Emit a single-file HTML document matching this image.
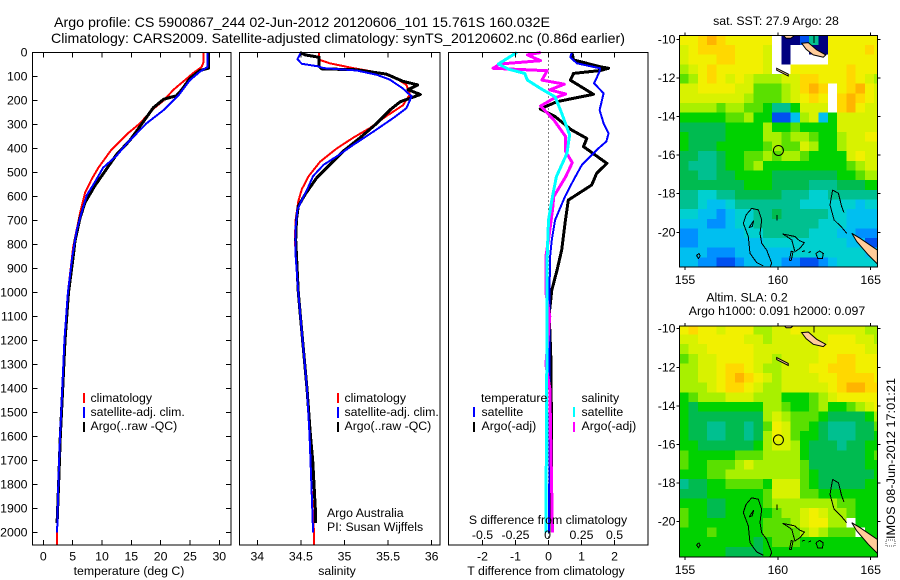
<!DOCTYPE html>
<html>
<head>
<meta charset="utf-8">
<title>Argo profile</title>
<style>
html,body{margin:0;padding:0;background:#fff;}
svg{display:block;}
text{font-family:"Liberation Sans",sans-serif;font-size:12.3px;fill:#000;}
</style>
</head>
<body>
<svg id="chart" xmlns="http://www.w3.org/2000/svg" width="900" height="580" viewBox="0 0 900 580">
<rect x="0" y="0" width="900" height="580" fill="#fff"/>
<text x="54" y="27" style="font-size:14px" textLength="496" lengthAdjust="spacingAndGlyphs">Argo profile: CS 5900867_244 02-Jun-2012 20120606_101 15.761S 160.032E</text>
<text x="51" y="43" style="font-size:14px" textLength="574" lengthAdjust="spacingAndGlyphs">Climatology: CARS2009. Satellite-adjusted climatology: synTS_20120602.nc (0.86d earlier)</text>

<g id="maps"></g>
<g id="profiles"></g>

<text x="129" y="575" text-anchor="middle">temperature (deg C)</text>
<text x="337" y="575" text-anchor="middle">salinity</text>
<text x="546" y="575" text-anchor="middle">T difference from climatology</text>
<text x="548" y="524" text-anchor="middle">S difference from climatology</text>

<g>
<line x1="84" x2="84" y1="393" y2="403" stroke="#f00" stroke-width="2"/>
<line x1="84" x2="84" y1="407" y2="418" stroke="#00f" stroke-width="2"/>
<line x1="84" x2="84" y1="422" y2="432" stroke="#000" stroke-width="2"/>
<text x="90.5" y="402">climatology</text>
<text x="90.5" y="416">satellite-adj. clim.</text>
<text x="90.5" y="430">Argo(..raw -QC)</text>
</g>
<g>
<line x1="338" x2="338" y1="393" y2="403" stroke="#f00" stroke-width="2"/>
<line x1="338" x2="338" y1="407" y2="418" stroke="#00f" stroke-width="2"/>
<line x1="338" x2="338" y1="422" y2="432" stroke="#000" stroke-width="2"/>
<text x="344.5" y="402">climatology</text>
<text x="344.5" y="416">satellite-adj. clim.</text>
<text x="344.5" y="430">Argo(..raw -QC)</text>
</g>
<g>
<text x="481" y="402">temperature</text>
<text x="581.5" y="402">salinity</text>
<line x1="474" x2="474" y1="407" y2="417" stroke="#00f" stroke-width="2"/>
<line x1="474" x2="474" y1="422" y2="432" stroke="#000" stroke-width="2"/>
<line x1="574" x2="574" y1="407" y2="417" stroke="#0ff" stroke-width="2"/>
<line x1="574" x2="574" y1="422" y2="432" stroke="#f0f" stroke-width="2"/>
<text x="481.5" y="416">satellite</text>
<text x="481.5" y="430">Argo(-adj)</text>
<text x="581.5" y="416">satellite</text>
<text x="581.5" y="430">Argo(-adj)</text>
</g>
<text x="327" y="517">Argo Australia</text>
<text x="327" y="531">PI: Susan Wijffels</text>

<text x="776" y="25" text-anchor="middle">sat. SST: 27.9 Argo: 28</text>
<text x="747" y="301.5" text-anchor="middle">Altim. SLA: 0.2</text>
<text x="777" y="315" text-anchor="middle">Argo h1000: 0.091 h2000: 0.097</text>
<rect x="886" y="540" width="9" height="6" fill="none" stroke="#555" stroke-width="1" stroke-dasharray="1 1" shape-rendering="crispEdges"/>
<text transform="translate(895,539) rotate(-90)" textLength="161" lengthAdjust="spacingAndGlyphs">IMOS 08-Jun-2012 17:01:21</text>
</svg>

<script>
// ---- profile data: depth (dbar) + values ----
const yTicks = [0,100,200,300,400,500,600,700,800,900,1000,1100,1200,1300,1400,1500,1600,1700,1800,1900,2000];
const tempTicks = [0,5,10,15,20,25,30];
const salTicks = [34,34.5,35,35.5,36];
const salTickLabels = ['34','34.5','35','35.5','36'];
const tDiffTicks = [-2,-1,0,1,2];
const sDiffTicks = [-0.5,-0.25,0,0.25,0.5];
const sDiffTickLabels = ['-0.5','-0.25','0','0.25','0.5'];

const tempClimDepth = [0,40,60,85,120,155,200,240,295,335,405,480,530,585,670,810,1000,1200,1400,1600,1800,2000,2050];
const tempClim = [27.3,27.3,27,25.6,23.9,22.2,20.5,18.5,16.5,14.5,11.6,9.4,8.2,7.1,6.25,5.1,4.2,3.6,3.24,2.85,2.56,2.35,2.3];
const tempSatDepth = [0,60,80,115,180,240,295,380,430,480,540,595,670,740,850,1000,1200,1400,1600,1800,2000];
const tempSat = [28,28,26.7,25,23,20.5,17.6,14.2,12.5,10.2,8.8,7.4,6.5,5.7,4.94,4.2,3.6,3.24,2.85,2.56,2.35];
const tempArgoDepth = [0,65,75,107,155,180,195,230,280,365,425,495,555,625,690,785,850,1000,1200,1400,1600,1800,1960];
const tempArgo = [28.2,28.2,26.7,25,23.6,22.7,20.5,18.75,17.3,14.8,12.5,10.5,8.8,7.1,6.25,5.4,5.1,4.3,3.7,3.3,2.9,2.6,2.35];

const salClimDepth = [0,30,45,65,80,100,135,175,220,265,315,355,400,455,515,570,620,695,780,1000,1200,1400,1600,1800,2000,2050];
const salClim = [34.71,34.71,34.83,35.1,35.33,35.56,35.71,35.75,35.67,35.48,35.29,35.1,34.91,34.72,34.59,34.51,34.47,34.44,34.43,34.47,34.52,34.57,34.6,34.62,34.65,34.65];
const salSatDepth = [0,28,47,58,65,75,93,113,150,183,232,273,330,385,433,468,515,572,615,655,725,850,1000,1200,1400,1600,1800,2000];
const salSat = [34.5,34.46,34.51,34.7,34.76,35.14,35.37,35.52,35.67,35.77,35.71,35.56,35.33,35.1,34.91,34.76,34.64,34.57,34.51,34.46,34.44,34.44,34.47,34.52,34.57,34.6,34.62,34.64];
const salArgoDepth = [0,10,20,58,68,72,90,120,135,155,175,205,240,295,355,410,468,523,590,640,695,780,1000,1200,1400,1600,1700,1800,1900,1960];
const salArgo = [34.49,34.55,34.71,34.71,34.74,35.14,35.48,35.67,35.84,35.73,35.87,35.64,35.52,35.37,35.18,34.99,34.83,34.68,34.55,34.47,34.45,34.44,34.47,34.52,34.57,34.61,34.635,34.65,34.665,34.67];

const dTSatDepth = [0,20,45,66,80,128,170,240,295,337,371,406,469,531,600,698,781,850,1000,2000];
const dTSat = [0.71,0.66,0.86,1.56,1.55,1.38,1.67,1.55,1.67,1.82,1.75,1.46,1.01,0.76,0.5,0.2,0.1,0.05,0.03,0.02];
const dTArgoDepth = [0,31,59,66,75,87,115,174,205,235,267,323,358,392,462,503,552,615,712,823,906,990,1090,1300,2000];
const dTArgo = [0.71,0.76,1.56,1.82,1.57,0.76,0.66,1.36,0.25,-0.25,0.2,0.7,1.16,1.06,1.77,1.46,1.31,0.6,0.5,0.4,0.26,0.1,0.02,0.08,0.1];
const dSSatDepth = [0,48,70,87,115,150,185,253,343,420,517,600,698,850,1000,2000];
const dSSat = [-0.24,-0.38,-0.3,-0.18,-0.16,-0.06,0.05,0.1,0.16,0.14,0.06,0.03,0,-0.01,-0.01,-0.02];
const dSArgoDepth = [0,10,34,48,66,76,115,132,156,173,191,223,281,351,413,459,517,600,656,781,850,1000,1100,1300,1400,2000];
const dSArgo = [-0.06,-0.16,-0.06,-0.37,-0.42,-0.01,-0.05,0.12,0.01,0.13,0.04,-0.06,0.04,0.13,0.13,0.18,0.13,0.04,0.03,0,-0.02,-0.02,0.01,-0.02,0.01,0.03];

// ---- map data: colour-class value per half-degree cell, -1 = missing ----
const mapLonStart = 154.69;
const mapLatStart = -9.8;
const mapCellDeg = 0.5;
const sstGrid = [
[11,11,12,13,12,11,11,11,11,11,-1,0,0,1,5,0,11,11,11,11,11,11],
[10,11,12,12,12,12,11,11,11,10,-1,0,-1,-1,0,0,11,11,11,11,12,11],
[10,11,11,11,12,12,11,11,11,10,-1,0,-1,-1,-1,-1,11,11,11,11,11,11],
[9,10,11,12,11,11,11,11,11,10,-1,-1,11,11,11,11,11,11,12,11,11,11],
[8,9,11,12,11,10,11,10,9,9,9,10,10,12,12,11,11,11,12,11,10,9],
[10,10,11,11,11,11,10,10,8,8,8,9,10,12,13,12,-1,11,12,13,11,10],
[10,10,10,10,10,10,10,9,8,8,8,9,10,11,12,11,-1,12,13,12,11,10],
[9,9,9,9,8,9,9,8,8,7,5,5,7,10,10,10,-1,12,13,11,10,10],
[7,7,7,7,7,8,8,9,7,7,1,1,3,9,10,3,7,10,10,10,10,10],
[6,6,6,6,6,7,7,7,7,9,7,7,8,7,7,7,7,10,10,10,10,10],
[7,6,6,6,6,7,7,7,7,9,9,8,9,9,8,7,7,9,10,10,11,11],
[7,6,6,6,7,7,7,7,7,8,9,8,8,10,9,7,7,9,10,10,10,10],
[6,6,5,5,6,7,7,8,8,9,8,9,9,8,7,7,7,7,10,11,10,10],
[6,5,5,5,6,7,7,8,9,7,7,7,7,7,7,7,7,7,8,9,10,10],
[6,6,5,5,6,6,7,7,7,7,6,6,6,6,6,6,6,7,7,8,9,9],
[6,6,6,6,6,6,6,7,7,7,6,6,6,6,5,5,5,6,6,6,7,7],
[5,5,4,4,5,5,6,6,6,6,6,5,5,5,4,4,5,5,5,5,5,5],
[5,5,4,3,3,4,5,5,5,5,5,5,5,4,4,4,4,4,4,3,4,4],
[4,4,3,3,2,3,4,4,5,5,6,5,5,5,5,5,4,4,3,3,3,3],
[3,3,3,2,2,3,4,4,5,5,5,5,5,5,5,4,4,4,3,3,3,3],
[2,2,3,3,3,3,3,4,4,5,5,5,5,5,4,4,4,3,3,2,2,2],
[2,2,3,3,3,3,3,3,3,4,4,4,4,4,4,4,4,4,3,3,1,1],
[3,3,3,2,2,2,3,3,3,3,3,3,4,4,4,4,4,4,4,4,3,3],
[3,3,2,2,1,1,2,3,3,3,3,2,2,1,1,2,3,4,4,4,4,4]
];
const slaGrid = [
[11,12,11,11,10,11,11,11,9,9,10,10,11,10,10,10,10,10,10,10,9,9],
[10,10,11,11,11,11,11,10,10,9,10,10,10,10,10,10,11,11,11,10,10,9],
[9,10,10,11,11,11,11,11,10,10,10,10,10,10,10,11,11,11,11,11,10,10],
[8,9,10,10,11,11,11,11,10,10,9,10,10,10,10,11,11,12,12,11,11,11],
[9,9,10,10,11,12,12,11,10,9,9,10,10,10,11,11,12,12,12,11,11,11],
[9,9,10,10,11,12,13,12,11,10,9,10,10,10,10,11,11,12,12,12,12,11],
[9,9,9,10,11,12,12,11,10,9,9,10,10,10,10,10,11,12,13,13,12,12],
[7,8,9,9,9,10,10,10,9,9,9,7,7,7,8,9,10,11,11,11,11,11],
[7,6,7,7,7,7,7,7,7,9,9,8,7,7,8,9,7,7,8,9,10,11],
[7,6,6,6,6,6,6,6,6,9,10,9,8,8,8,7,6,6,6,6,7,9],
[7,6,6,5,5,6,6,5,6,8,11,10,8,8,7,6,5,5,5,6,6,8],
[7,6,6,5,5,6,6,5,6,9,11,10,8,7,7,6,5,5,5,6,6,7],
[7,7,6,6,6,6,6,6,7,9,10,10,9,7,6,6,6,5,6,6,7,7],
[8,7,7,7,7,7,8,8,8,9,9,9,9,7,6,6,6,6,6,6,7,8],
[8,7,7,8,8,8,9,10,9,9,9,9,9,8,6,6,6,6,6,6,7,7],
[7,7,7,8,8,9,9,9,9,9,9,9,9,8,7,6,6,6,6,6,6,7],
[5,6,6,7,7,8,8,8,8,7,10,10,10,8,7,6,6,6,6,6,7,7],
[6,6,6,7,7,7,7,7,7,8,10,10,10,8,8,7,7,7,7,7,7,7],
[7,7,7,6,6,7,7,7,7,8,9,9,9,9,9,9,9,8,8,7,7,7],
[8,7,7,6,6,7,7,7,7,7,8,9,9,10,11,10,9,9,8,7,7,7],
[8,7,7,7,7,7,7,7,7,8,8,8,9,10,11,11,9,9,-1,7,7,7],
[7,7,7,8,7,7,7,7,7,8,8,8,8,9,10,9,8,8,8,-1,7,7],
[7,7,7,7,7,7,7,7,6,7,8,8,8,7,7,7,7,7,7,7,7,7],
[7,7,7,7,7,6,6,6,6,7,7,7,7,7,7,7,7,7,7,7,7,7]
];
const lonTicks = [155,160,165];
const latTicks = [-10,-12,-14,-16,-18,-20];
const floatLon = 160.032;
const floatLat = -15.761;

// coastline and reef outlines in [lon,lat]
const reefOutlines = [
 [[158.59,-18.76],[158.95,-18.84],[159.13,-19.36],[159.04,-20.05],[159.13,-20.57],[159.4,-20.92],[159.67,-21.6],[159.58,-21.8]],
 [[159.22,-21.74],[158.86,-21.57],[158.5,-21.09],[158.41,-20.22],[158.14,-19.53],[158.29,-19.1],[158.59,-18.76]],
 [[158.45,-19.75],[158.7,-19.4],[158.62,-19.7],[158.45,-19.75]],
 [[162.95,-17.81],[163.26,-17.98],[163.44,-18.67],[163.56,-18.98]],
 [[162.95,-17.81],[162.81,-18.58],[163.03,-19.36],[163.44,-19.74],[163.71,-20.05]],
 [[160.26,-20.09],[160.92,-20.22],[161.16,-20.43],[161.43,-20.54],[161.19,-20.83],[160.92,-21],[160.75,-20.4],[160.48,-20.22],[160.26,-20.09]],
 [[162.05,-21.1],[162.25,-20.97],[162.45,-21.1],[162.4,-21.35],[162.15,-21.35],[162.05,-21.1]],
 [[160.62,-21.45],[160.72,-20.98],[160.82,-21.0],[160.72,-21.45],[160.62,-21.45]],
 [[155.62,-21.2],[155.75,-21.1],[155.82,-21.22],[155.72,-21.35],[155.62,-21.2]],
 [[159.95,-19.1],[159.95,-19.4]],
 [[161.3,-21],[161.45,-20.96]],
 [[161.65,-21.05],[161.78,-21]],
 [[161.95,-9.8],[161.95,-10.2]]
];
const landShapes = [
 [[163.98,-20.05],[164.43,-20.31],[165.36,-20.92],[165.36,-21.64],[164.87,-21.17],[164.25,-20.48]],
 [[161.28,-10.2],[161.64,-10.17],[162.09,-10.55],[162.58,-10.81],[162.45,-10.93],[161.91,-10.81],[161.52,-10.52]],
 [[160.3,-9.8],[160.9,-9.8],[160.7,-9.95],[160.45,-9.95]],
 [[159.94,-11.5],[160.56,-11.8],[160.56,-11.9],[159.94,-11.6]]
];

// ---- styles and scales ----
const classColors = ['#00007f','#0050f0','#0090ff','#00bff0','#00d0d0','#00c090','#00bb50','#00d200','#5ae000','#a8f000','#d8f200','#f2f000','#ffd800','#ffb400'];
const NS = 'http://www.w3.org/2000/svg';
const mapsLayer = document.getElementById('maps');
const profilesLayer = document.getElementById('profiles');
const yOf = d => 52.5 + 0.24 * d;
const xTemp = v => 43.3 + 5.867 * v;
const xSal = v => 257.3 + 87.2 * (v - 34);
const xDT = v => 548.5 + 33 * v;
const xDS = v => 548.5 + 132 * v;

function mk(tag, parent, attrs) {
  const e = document.createElementNS(NS, tag);
  for (const k in attrs) e.setAttribute(k, attrs[k]);
  parent.appendChild(e);
  return e;
}
function colorOf(v) {
  if (v < 0) return '#fff';
  return classColors[Math.max(0, Math.min(classColors.length - 1, Math.round(v)))];
}
function drawLine(depths, values, xFn, color, width, name) {
  const pts = depths.map((d, i) => xFn(values[i]).toFixed(1) + ',' + yOf(d).toFixed(1)).join(' ');
  const el = mk('polyline', profilesLayer, {points: pts, fill: 'none', stroke: color, 'stroke-width': width, 'shape-rendering': 'crispEdges', 'stroke-linejoin': 'round'});
  
  
}
function drawTick(x1, y1, x2, y2) {
  const el = mk('line', profilesLayer, {x1, y1, x2, y2, stroke: '#000', 'stroke-width': 1, 'shape-rendering': 'crispEdges'});
  
  
}
function drawLabel(x, y, str, anchor) {
  const el = mk('text', profilesLayer, {x, y, 'text-anchor': anchor});
  el.textContent = str;
  
  
}
function drawPanel(left, right, name) {
  const el = mk('rect', profilesLayer, {x: left, y: 52.5, width: right - left, height: 492.5, fill: 'none', stroke: '#000', 'stroke-width': 1.2, 'shape-rendering': 'crispEdges'});
  
  
}
function xTicks(ticks, labels, xFn) {
  ticks.forEach((t, i) => {
    const x = xFn(t);
    drawTick(x, 52.5, x, 57.5);
    drawTick(x, 540, x, 545);
    drawLabel(x, 560.5, labels[i], 'middle');
  });
}

// ---- profile panels ----
drawLine(tempClimDepth, tempClim, xTemp, '#f00', 2, 'temperature-climatology-line');
drawLine(tempArgoDepth, tempArgo, xTemp, '#000', 3, 'temperature-argo-line');
drawLine(tempSatDepth, tempSat, xTemp, '#00f', 2, 'temperature-satellite-line');
drawLine(salClimDepth, salClim, xSal, '#f00', 2, 'salinity-climatology-line');
drawLine(salArgoDepth, salArgo, xSal, '#000', 3, 'salinity-argo-line');
drawLine(salSatDepth, salSat, xSal, '#00f', 2, 'salinity-satellite-line');

const zeroLine = mk('line', profilesLayer, {x1: xDT(0), x2: xDT(0), y1: yOf(0), y2: 545, stroke: '#000', 'stroke-width': 1, 'stroke-dasharray': '1 3', 'shape-rendering': 'crispEdges'});


drawLine(dTArgoDepth, dTArgo, xDT, '#000', 3, 't-difference-argo-line');
drawLine(dTSatDepth, dTSat, xDT, '#00f', 2, 't-difference-satellite-line');
drawLine(dSArgoDepth, dSArgo, xDS, '#f0f', 3, 's-difference-argo-line');
drawLine(dSSatDepth, dSSat, xDS, '#0ff', 3, 's-difference-satellite-line');

drawPanel(32.5, 231, 'temperature-panel');
drawPanel(239.5, 440, 'salinity-panel');
drawPanel(448.5, 648, 'difference-panel');

yTicks.forEach(d => {
  drawTick(32.5, yOf(d), 37.5, yOf(d));
  drawTick(226, yOf(d), 231, yOf(d));
  drawLabel(27.5, yOf(d) + 4, String(d), 'end');
});
xTicks(tempTicks, tempTicks.map(String), xTemp);
xTicks(salTicks, salTickLabels, xSal);
xTicks(tDiffTicks, tDiffTicks.map(String), xDT);
sDiffTicks.forEach((t, i) => drawLabel(xDS(t) - (i === 2 ? 1 : 0), 539, sDiffTickLabels[i], 'middle'));

// ---- maps ----
function drawMap(grid, box, lat10Y, name) {
  const lonX = lon => 685 + 18.57 * (lon - 155);
  const latY = lat => lat10Y + 19.3 * (-10 - lat);
  const g = mk('g', mapsLayer, {});
  
  
  const clipId = name + '-clip';
  const defs = mk('defs', g, {});
  const cp = mk('clipPath', defs, {id: clipId});
  mk('rect', cp, {x: box.l, y: box.t, width: box.r - box.l, height: box.b - box.t});
  const inner = mk('g', g, {'clip-path': 'url(#' + clipId + ')'});
  grid.forEach((row, j) => row.forEach((v, i) => {
    const lon = mapLonStart + i * mapCellDeg;
    const lat = mapLatStart - j * mapCellDeg;
    const x = lonX(lon), y = latY(lat);
    const cell = mk('rect', inner, {x: x.toFixed(2), y: y.toFixed(2), width: (lonX(lon + mapCellDeg) - x + 0.6).toFixed(2), height: (latY(lat - mapCellDeg) - y + 0.6).toFixed(2), fill: colorOf(v), 'shape-rendering': 'crispEdges'});
    
    
  }));
  landShapes.forEach(shape => {
    const p = mk('polygon', inner, {points: shape.map(c => lonX(c[0]).toFixed(1) + ',' + latY(c[1]).toFixed(1)).join(' '), fill: '#ffcc99', stroke: '#000', 'stroke-width': 1});
    
    
  });
  reefOutlines.forEach(shape => {
    const p = mk('polyline', inner, {points: shape.map(c => lonX(c[0]).toFixed(1) + ',' + latY(c[1]).toFixed(1)).join(' '), fill: 'none', stroke: '#000', 'stroke-width': 1, 'shape-rendering': 'crispEdges'});
    
    
  });
  const marker = mk('circle', inner, {cx: lonX(floatLon), cy: latY(floatLat), r: 5, fill: 'none', stroke: '#000', 'stroke-width': 1});
  
  
  const frame = mk('rect', g, {x: box.l, y: box.t, width: box.r - box.l, height: box.b - box.t, fill: 'none', stroke: '#000', 'stroke-width': 1.2, 'shape-rendering': 'crispEdges'});
  
  
  const tick = (x1, y1, x2, y2) => {
    const t = mk('line', g, {x1, y1, x2, y2, stroke: '#000', 'stroke-width': 1, 'shape-rendering': 'crispEdges'});
    
    
  };
  const label = (x, y, str, anchor) => {
    const t = mk('text', g, {x, y, 'text-anchor': anchor});
    t.textContent = str;
    
    
  };
  lonTicks.forEach(l => {
    const x = lonX(l);
    tick(x, box.t - 3, x, box.t);
    tick(x, box.b, x, box.b + 3);
    label(x, box.b + 17, String(l), 'middle');
  });
  latTicks.forEach(l => {
    const y = latY(l);
    tick(box.l - 3, y, box.l, y);
    tick(box.r, y, box.r + 3, y);
    label(box.l - 4, y + 4, String(l), 'end');
  });
}
drawMap(sstGrid, {l: 679.5, r: 877.5, t: 35.5, b: 267}, 39.3, 'sst-map');
drawMap(slaGrid, {l: 679.5, r: 877.5, t: 326, b: 557}, 328.7, 'sla-map');
</script>
</body>
</html>
